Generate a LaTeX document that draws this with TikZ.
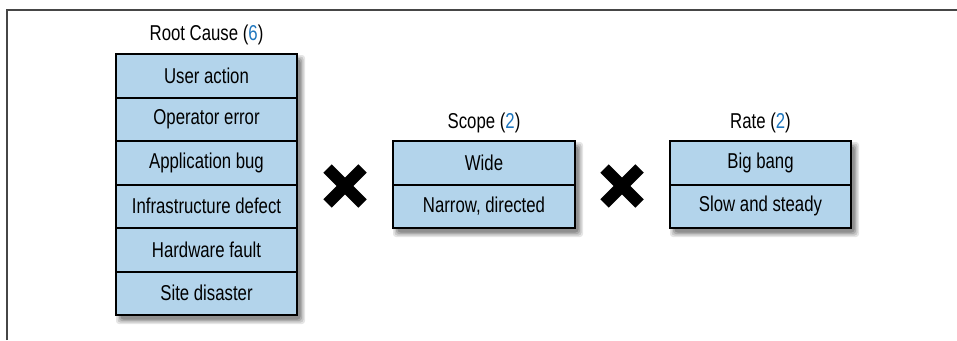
\documentclass[tikz,border=0pt]{standalone}
\usepackage{fontspec}
\setmainfont{Liberation Sans}[FakeStretch=0.78]
\usetikzlibrary{positioning}
\definecolor{cellblue}{RGB}{179,212,235}
\definecolor{numblue}{RGB}{30,118,190}
\definecolor{framegray}{RGB}{70,70,70}
\tikzset{
  cell/.style={draw=black, line width=2pt, fill=cellblue, minimum height=43.5pt, inner sep=0pt, font=\fontsize{21.5}{24}\selectfont},
  rootcell/.style={cell, minimum width=181pt},
  scopecell/.style={cell, minimum width=182pt},
  ratecell/.style={cell, minimum width=181pt},
  title/.style={inner sep=0pt, font=\fontsize{21.5}{24}\selectfont},
  crossbar/.style={line width=12pt, black, line cap=butt},
}
\newcommand{\myshadow}[4]{% x1 y1 x2 y2
  \foreach \k/\op in {0/0.10,1.5/0.12,3/0.14,4.5/0.16}{
    \fill[black, opacity=\op, rounded corners=3pt] (#1+4+\k-4,#2+5+\k-4) rectangle (#3+4-\k+4,#4+5-\k+4);
  }
}
\begin{document}
\begin{tikzpicture}[x=1pt,y=-1pt]
\useasboundingbox (0,0) rectangle (957,340);
\fill[white] (0,0) rectangle (957,340);
\coordinate (fbl) at (7,340);
\coordinate (ftl) at (7,9.5);
\coordinate (ftr) at (957,9.5);
\draw[framegray, line width=2pt] (fbl) -- (ftl) -- (ftr);

% shadows
\myshadow{116}{54}{297}{315}
\myshadow{393}{141}{575}{228}
\myshadow{670}{141}{851}{228}

% Root cause
\node[title] (roottitle) at (206.5,35) {Root Cause (\textcolor{numblue}{6})};
\node[rootcell] (r1) at (206.5,75.75) {User action};
\node[rootcell] (r2) at (206.5,119.25) {Operator error};
\node[rootcell] (r3) at (206.5,162.75) {Application bug};
\node[rootcell] (r4) at (206.5,206.25) {Infrastructure defect};
\node[rootcell] (r5) at (206.5,249.75) {Hardware fault};
\node[rootcell] (r6) at (206.5,293.25) {Site disaster};

% Scope
\node[title] (scopetitle) at (484,123) {Scope (\textcolor{numblue}{2})};
\node[scopecell] (s1) at (484,162.75) {Wide};
\node[scopecell] (s2) at (484,206.25) {Narrow, directed};

% Rate
\node[title] (ratetitle) at (760.5,123) {Rate (\textcolor{numblue}{2})};
\node[ratecell] (t1) at (760.5,162.75) {Big bang};
\node[ratecell] (t2) at (760.5,206.25) {Slow and steady};

% crosses
\coordinate (x1) at (345,186);
\coordinate (x2) at (622,186);
\foreach \c in {x1,x2}{
  \draw[crossbar] ([shift={(-17.5,-17.5)}]\c) -- ([shift={(17.5,17.5)}]\c);
  \draw[crossbar] ([shift={(-17.5,17.5)}]\c) -- ([shift={(17.5,-17.5)}]\c);
}
\end{tikzpicture}
\end{document}
